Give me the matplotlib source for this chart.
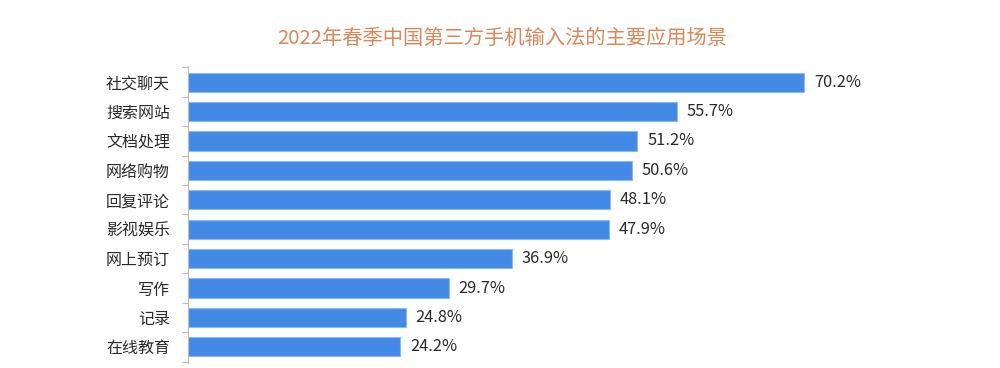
import matplotlib
matplotlib.use("Agg")
import matplotlib.pyplot as plt
import numpy as np

plt.rcParams['font.family'] = ['Noto Sans CJK SC', 'DejaVu Sans']

title = "2022年春季中国第三方手机输入法的主要应用场景"
categories = ["社交聊天", "搜索网站", "文档处理", "网络购物", "回复评论",
              "影视娱乐", "网上预订", "写作", "记录", "在线教育"]
values = [70.2, 55.7, 51.2, 50.6, 48.1, 47.9, 36.9, 29.7, 24.8, 24.2]

fig = plt.figure(figsize=(10, 3.68), dpi=100)
ax = fig.add_axes([0.188, 0.0136, 0.712, 0.8071])

y = np.arange(len(categories))
ax.barh(y, values, height=0.65, color="#4389E6", edgecolor="#8DB9F0", linewidth=0.8)
for yi, v in zip(y, values):
    ax.annotate(f"{v}%", (v, yi), xytext=(7, 0), textcoords="offset points",
                va="center", ha="left", fontsize=11.8, color="#2a2a2a")

ax.set_xlim(0, 81.1)
ax.set_ylim(9.55, -0.55)
ax.set_yticks(y)
ax.set_yticklabels(categories, fontsize=11.5, color="#2a2a2a")
ax.tick_params(axis='y', which='major', length=0, pad=13)
ax.set_yticks(np.arange(-0.5, len(categories), 1), minor=True)
ax.tick_params(axis='y', which='minor', length=4, color="#BBBBBB", width=0.8)
ax.set_xticks([])
for s in ["top", "right", "bottom"]:
    ax.spines[s].set_visible(False)
ax.spines["left"].set_color("#BBBBBB")
ax.spines["left"].set_linewidth(0.8)

fig.text(0.502, 0.895, title, ha="center", va="center", fontsize=14.6, color="#D9885A")

fig.savefig("out.png", dpi=100, facecolor="white")
